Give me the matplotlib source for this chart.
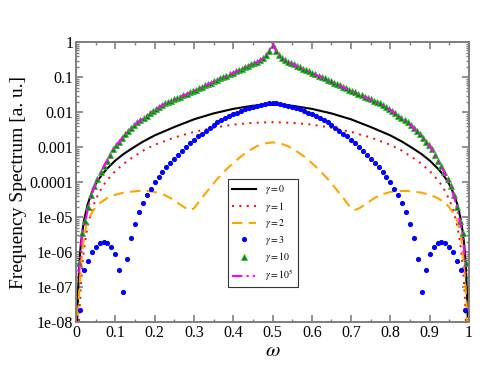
import numpy as np
import matplotlib
matplotlib.use('Agg')
import matplotlib.pyplot as plt
from matplotlib.ticker import MultipleLocator, LogLocator, FixedLocator, FuncFormatter, NullFormatter

plt.rcParams['font.family'] = 'Liberation Serif'
plt.rcParams['mathtext.fontset'] = 'stix'

# Spectra are symmetric about omega = 0.5, so only the left half is stored (log10 values)
w_line = [0.002, 0.004, 0.008, 0.012, 0.016, 0.02, 0.025, 0.03, 0.04, 0.05, 0.06, 0.07,
          0.08, 0.10, 0.12, 0.14, 0.17, 0.20, 0.25, 0.30, 0.35, 0.40, 0.45, 0.50]
g0_log = [-8.5, -7.5, -6.4, -5.8, -5.42, -5.12, -4.85, -4.62, -4.3, -4.06, -3.88, -3.73,
          -3.6, -3.38, -3.2, -3.05, -2.84, -2.66, -2.42, -2.2, -2.03, -1.9, -1.81, -1.78]
g1_log = [-10.0, -9.0, -7.9, -7.0, -6.4, -5.95, -5.55, -5.25, -4.8, -4.5, -4.27, -4.08,
          -3.93, -3.68, -3.48, -3.32, -3.10, -2.93, -2.72, -2.56, -2.44, -2.35, -2.30, -2.28]

w_g2 = [0.003, 0.006, 0.01, 0.015, 0.02, 0.025, 0.03, 0.04, 0.05, 0.06, 0.08, 0.10, 0.12,
        0.14, 0.16, 0.18, 0.20, 0.22, 0.24, 0.26, 0.28, 0.29, 0.30, 0.32, 0.34, 0.36, 0.38,
        0.40, 0.42, 0.44, 0.46, 0.48, 0.50]
g2_log = [-8.3, -7.5, -6.8, -6.1, -5.6, -5.3, -5.1, -4.88, -4.72, -4.6, -4.45, -4.36, -4.3,
          -4.27, -4.25, -4.25, -4.28, -4.34, -4.45, -4.6, -4.75, -4.79, -4.75, -4.45, -4.17,
          -3.9, -3.66, -3.45, -3.26, -3.1, -2.97, -2.89, -2.86]

# gamma = 3 dots, omega = 0.01 ... 0.50
w_g3 = [k / 100 for k in range(1, 51)]
g3_log = [-7.65, -6.5, -6.25, -6.0, -5.85, -5.75, -5.71, -5.74, -5.84, -6.05,
          -6.5, -7.15, -6.2, -5.6, -5.19, -4.86, -4.58, -4.37, -4.18, -4.0,
          -3.85, -3.71, -3.57, -3.45, -3.34, -3.22, -3.10, -3.0, -2.89, -2.79,
          -2.69, -2.61, -2.52, -2.45, -2.37, -2.29, -2.23, -2.17, -2.11, -2.06,
          -2.01, -1.96, -1.91, -1.87, -1.84, -1.81, -1.78, -1.76, -1.74, -1.73]

# gamma = 10 triangles, omega = j/128
w_g10 = [j / 128 for j in range(1, 65)]
g10_log = [-6.31, -5.44, -5.10, -4.70, -4.36, -4.12, -3.92, -3.72, -3.54, -3.38,
           -3.23, -3.06, -2.94, -2.84, -2.73, -2.62, -2.52, -2.44, -2.36, -2.29,
           -2.22, -2.16, -2.09, -2.02, -1.96, -1.90, -1.85, -1.79, -1.74, -1.71,
           -1.67, -1.63, -1.59, -1.55, -1.51, -1.47, -1.43, -1.39, -1.35, -1.31,
           -1.27, -1.23, -1.19, -1.15, -1.11, -1.07, -1.03, -0.99, -0.95, -0.91,
           -0.87, -0.83, -0.79, -0.75, -0.71, -0.67, -0.63, -0.59, -0.55, -0.51,
           -0.45, -0.37, -0.25, -0.08]
g1e5_log = [-6.6, -5.5, -5.12, -4.72, -4.38, -4.13, -3.93, -3.73, -3.55, -3.39,
            -3.24, -3.07, -2.95, -2.85, -2.74, -2.63, -2.53, -2.45, -2.37, -2.30,
            -2.23, -2.17, -2.10, -2.03, -1.97, -1.91, -1.86, -1.80, -1.75, -1.72,
            -1.68, -1.64, -1.60, -1.56, -1.52, -1.48, -1.44, -1.40, -1.36, -1.32,
            -1.28, -1.24, -1.20, -1.16, -1.12, -1.08, -1.04, -1.00, -0.96, -0.92,
            -0.88, -0.84, -0.80, -0.76, -0.72, -0.68, -0.64, -0.60, -0.56, -0.51,
            -0.45, -0.36, -0.22, -0.02]


def mirror(w, logv):
    w = list(w)
    logv = list(logv)
    ww = w + [1 - x for x in reversed(w[:-1])]
    vv = logv + list(reversed(logv[:-1]))
    return np.array(ww), 10 ** np.array(vv)


fig = plt.figure(figsize=(4.91, 3.79), dpi=100)
ax = fig.add_axes([0.1548, 0.1504, 0.8004, 0.7375])

x, y = mirror(w_line, g0_log)
ax.plot(x, y, color='black', lw=1.5, label=r'$\gamma = 0$')
x, y = mirror(w_line, g1_log)
ax.plot(x, y, color='red', lw=1.4, ls=(0, (1, 2.8)), label=r'$\gamma = 1$')
x, y = mirror(w_g2, g2_log)
ax.plot(x, y, color='#ffa500', lw=1.5, ls=(0, (5, 3)), label=r'$\gamma = 2$')
x, y = mirror(w_g3, g3_log)
ax.plot(x, y, ls='none', marker='o', ms=2.7, color='blue', mec='blue', label=r'$\gamma = 3$')
x, y = mirror(w_g10, g10_log)
ax.plot(x, y, ls='none', marker='^', ms=3.9, color='#008c00', mec='#3cb43c', mew=0.6,
        label=r'$\gamma = 10$')
x, y = mirror(w_g10, g1e5_log)
ax.plot(x, y, color='#ff00ff', lw=1.5, ls=(0, (5, 2, 1, 2, 1, 2)), label=r'$\gamma = 10^5$')

ax.set_yscale('log')
ax.set_xlim(0, 1)
ax.set_ylim(1e-8, 1)

ax.xaxis.set_major_locator(MultipleLocator(0.1))
ax.xaxis.set_minor_locator(MultipleLocator(0.05))
ax.xaxis.set_major_formatter(FuncFormatter(lambda v, p: '%g' % round(v, 2)))
ax.yaxis.set_major_locator(FixedLocator([10.0 ** e for e in range(-8, 1)]))
ax.yaxis.set_minor_locator(LogLocator(base=10, subs=np.arange(2, 10), numticks=20))
ax.yaxis.set_minor_formatter(NullFormatter())
ylabels = {0: '1', -1: '0.1', -2: '0.01', -3: '0.001', -4: '0.0001',
           -5: '1e-05', -6: '1e-06', -7: '1e-07', -8: '1e-08'}
ax.yaxis.set_major_formatter(FuncFormatter(lambda v, p: ylabels.get(int(round(np.log10(v))), '')))

for s in ax.spines.values():
    s.set_color('#7f7f7f')
    s.set_linewidth(1.4)
ax.tick_params(which='both', direction='in', top=True, right=True, color='#7f7f7f',
               labelsize=11.5, pad=2)
ax.tick_params(which='major', length=5, width=1.2)
ax.tick_params(which='minor', length=2.5, width=1.0)

ax.set_ylabel('Frequency Spectrum [a. u.]', fontsize=14, labelpad=2)
ax.set_xlabel(r'$\omega$', fontsize=15, labelpad=1)

leg = ax.legend(loc='center', bbox_to_anchor=(0.476, 0.318), fontsize=7, frameon=True,
                fancybox=False, edgecolor='black', handlelength=2.4, borderpad=0.4,
                labelspacing=0.35, handletextpad=1.0, borderaxespad=0)
leg.get_frame().set_linewidth(0.8)

fig.savefig('out.png', dpi=100)
